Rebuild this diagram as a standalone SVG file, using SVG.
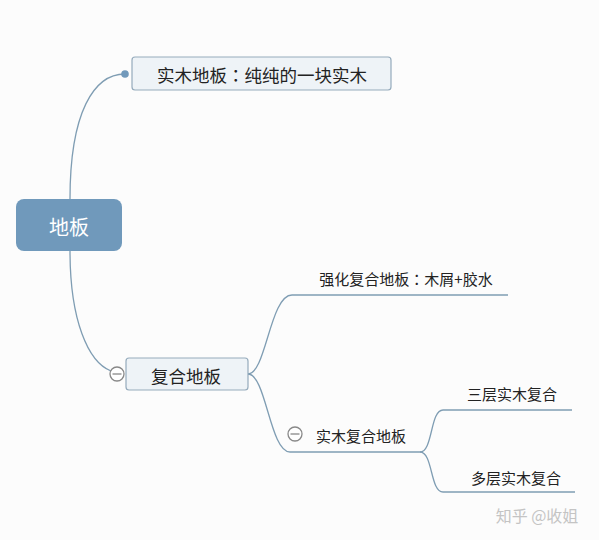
<svg xmlns="http://www.w3.org/2000/svg" width="599" height="540" viewBox="0 0 599 540">
<style>
.ln{fill:none;stroke:#7f9db3;stroke-width:1.3}
.box{fill:#eef3f7;stroke:#95abbc;stroke-width:1.2}
.t{font-family:"Noto Sans CJK SC","Liberation Sans",sans-serif;fill:#222;text-anchor:middle;dominant-baseline:central}
.c{font-family:"Noto Sans CJK TC","Noto Sans CJK SC",sans-serif}
.col{fill:#fff;stroke:#888;stroke-width:1.3}
</style>
<rect width="599" height="540" fill="#fcfcfc"/>
<g id="connectors">
<path class="ln" d="M70,199 C70,112 94,74 125,74"/>
<path class="ln" d="M70,251 C70,320 88,362 111,371"/>
<path class="ln" d="M248,374 C266,374 270,295 292,295 L508,295"/>
<path class="ln" d="M248,374 C266,374 270,452 290,452 L420,452"/>
<path class="ln" d="M420,452 C433,452 430,410 443,410 L572,410"/>
<path class="ln" d="M420,452 C433,452 430,492 443,492 L575,492"/>
<circle cx="125" cy="74" r="3.8" fill="#7199bb"/>
</g>
<g id="root">
<rect x="16" y="199" width="106" height="52" rx="8" fill="#7099bb"/>
<text class="t" x="69" y="226" font-size="20" style="fill:#fff">地板</text>
</g>
<g id="solid">
<rect class="box" x="132" y="57" width="259" height="33" rx="3"/>
<text class="t" x="262" y="74" font-size="17.5">实木地板<tspan class="c">：</tspan>纯纯的一块实木</text>
</g>
<g id="composite">
<rect class="box" x="126" y="358" width="122" height="32" rx="3"/>
<text class="t" x="186" y="375" font-size="17.5">复合地板</text>
<circle class="col" cx="117" cy="374" r="7"/>
<line x1="112.5" y1="374" x2="121.5" y2="374" stroke="#888" stroke-width="1.3"/>
</g>
<g id="laminate">
<text class="t" x="406" y="278" font-size="15">强化复合地板<tspan class="c">：</tspan>木屑+胶水</text>
</g>
<g id="engineered">
<circle class="col" cx="295" cy="434" r="7"/>
<line x1="290.5" y1="434" x2="299.5" y2="434" stroke="#888" stroke-width="1.3"/>
<text class="t" x="361" y="435" font-size="15">实木复合地板</text>
</g>
<g id="three">
<text class="t" x="512" y="393" font-size="15">三层实木复合</text>
</g>
<g id="multi">
<text class="t" x="516" y="477" font-size="15">多层实木复合</text>
</g>
<text class="t" x="537" y="515" font-size="16" style="fill:#c4c4c4">知乎 @收姐</text>
</svg>
